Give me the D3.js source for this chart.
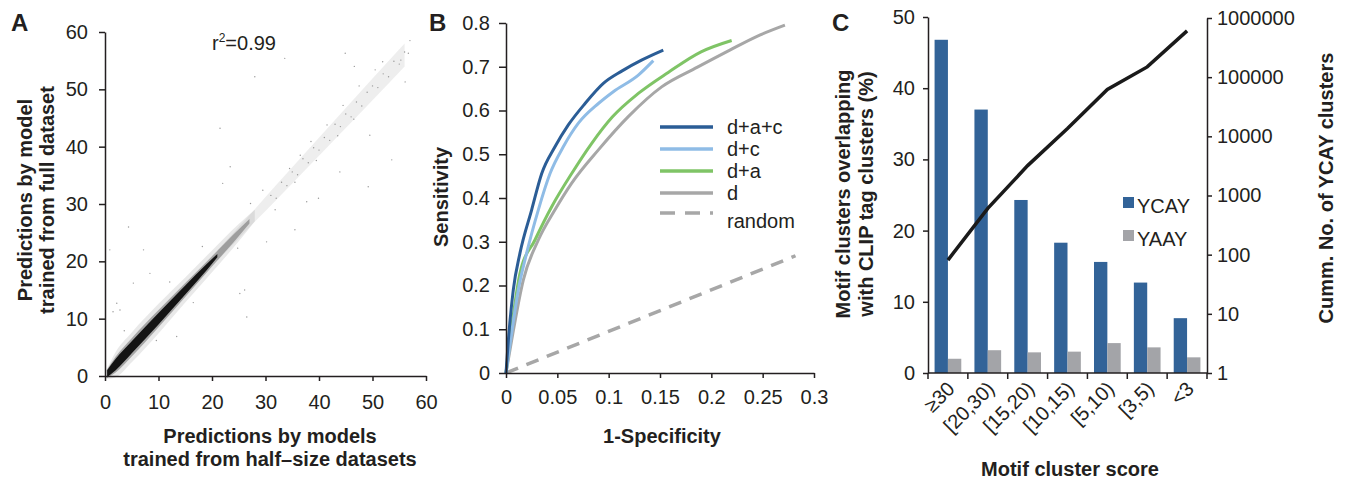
<!DOCTYPE html>
<html>
<head>
<meta charset="utf-8">
<script src="https://cdn.jsdelivr.net/npm/d3@7"></script>
<style>
  body { margin: 0; background: #fff; }
  svg { font-family: "Liberation Sans", Arial, sans-serif; }
  .axis path, .axis line { stroke: #231f20; stroke-width: 1.5; }
  .axis text { font-size: 20px; fill: #231f20; font-family: "Liberation Sans", Arial, sans-serif; }
</style>
</head>
<body>
<svg id="fig" width="1347" height="480"></svg>
<script>
// ---------- panel A data ----------
// dense band along the diagonal: centre position and half width (data units)
const haloX    = [0.3, 2, 5, 10, 15, 20, 25, 28]
const haloHalf = [0.8, 2.2, 2.6, 2.6, 2.2, 1.9, 1.5, 1.0]
const fuzzX    = [0.3, 2, 5, 10, 15, 20, 24, 27]
const fuzzHalf = [0.7, 1.4, 1.6, 1.5, 1.2, 0.9, 0.7, 0.4]
const coreX    = [0.4, 2, 5, 10, 15, 19, 21]
const coreHalf = [0.6, 1.0, 1.05, 1.0, 0.8, 0.55, 0.3]
const trailX    = [21, 25, 28, 32, 38, 44, 50, 56]
const trailHalf = [0.9, 1.0, 1.1, 1.3, 1.5, 1.7, 1.9, 2.0]
// scattered points
const ptsX = [21.5, 28.0, 33.6, 44.9, 53.6, 49.2, 23.4, 22.0, 35.5, 30.2, 56.7, 56.1, 55.3, 51.9, 46.6, 49.5, 43.9, 39.9, 37.7,
  0.9, 7.2, 26.5, 26.1, 13.4, 2.8, 5.3, 8.4, 4.4, 25.2, 2.2, 1.5,
  31, 32, 33, 34, 35, 36, 37, 38, 39, 40, 41, 42, 43, 44, 45, 46, 47, 48, 49, 50, 51, 52, 53, 54, 55, 56, 57,
  34.5, 36.5, 38.5, 41.5, 44.5, 47.5, 50.5, 35.5, 39.5, 43.5, 46.5, 29.5, 27.2, 24.8, 31.8, 18.2, 16.5, 12.1, 9.6, 3.6]
const ptsY = [43.2, 52.2, 55.4, 56.3, 37.7, 33.0, 36.5, 33.6, 25.5, 23.4, 56.3, 51.3, 55.1, 54.8, 54.0, 42.0, 35.6, 31.0, 30.4,
  22.0, 22.0, 10.3, 15.0, 6.9, 11.5, 16.2, 17.9, 26.0, 14.4, 12.7, 11.2,
  31.5, 31.0, 33.8, 33.2, 35.6, 35.1, 37.9, 37.2, 39.8, 39.4, 41.6, 41.1, 43.9, 43.5, 45.7, 45.2, 47.8, 47.1, 49.5, 50.6, 50.3, 52.7, 52.2, 54.9, 54.4, 56.5, 58.5,
  36.2, 38.5, 40.9, 43.8, 47.2, 50.6, 53.4, 33.8, 37.6, 41.9, 44.8, 32.4, 30.1, 22.3, 29.0, 22.6, 12.8, 16.4, 6.2, 7.9]
const ticksA = [0, 10, 20, 30, 40, 50, 60]

// ---------- panel B data ----------
const rocNames = ["d+a+c", "d+c", "d+a", "d"]
const rocColors = ["#2b5d96", "#8fbce6", "#7fc466", "#a7a7a7"]
const rocDAC = [[0, 0], [0.0023, 0.075], [0.0071, 0.19], [0.0136, 0.274], [0.025, 0.373], [0.0348, 0.456], [0.0477, 0.517],
  [0.0607, 0.567], [0.077, 0.616], [0.0948, 0.662], [0.1127, 0.690], [0.132, 0.715], [0.1532, 0.738]]
const rocDC = [[0, 0], [0.0045, 0.075], [0.012, 0.19], [0.0201, 0.274], [0.0315, 0.373], [0.0429, 0.456], [0.0558, 0.517],
  [0.0705, 0.571], [0.090, 0.616], [0.1045, 0.643], [0.1289, 0.681], [0.1435, 0.714]]
const rocDA = [[0, 0], [0.0039, 0.075], [0.0136, 0.228], [0.0282, 0.304], [0.0445, 0.380], [0.064, 0.456], [0.0835, 0.525],
  [0.1035, 0.585], [0.1289, 0.639], [0.1580, 0.687], [0.1900, 0.734], [0.2198, 0.760]]
const rocD = [[0, 0], [0.0055, 0.075], [0.0169, 0.213], [0.0315, 0.304], [0.0477, 0.373], [0.064, 0.434], [0.090, 0.510],
  [0.1191, 0.586], [0.1516, 0.654], [0.1865, 0.699], [0.218, 0.738], [0.244, 0.769], [0.2717, 0.795]]
const rocRandom = [[0, 0], [0.282, 0.268]]
const ticksBx = [0, 0.05, 0.1, 0.15, 0.2, 0.25, 0.3]
const ticksBy = [0, 0.1, 0.2, 0.3, 0.4, 0.5, 0.6, 0.7, 0.8]

// ---------- panel C data ----------
const scoreBins = ["≥30", "[20,30)", "[15,20)", "[10,15)", "[5,10)", "[3,5)", "<3"]
const ycay = [46.8, 37.0, 24.3, 18.3, 15.6, 12.7, 7.7]
const yaay = [2.0, 3.2, 2.9, 3.0, 4.2, 3.6, 2.2]
const cumYcay = [81, 605, 3200, 13600, 62000, 149000, 605000]
const ticksCl = [0, 10, 20, 30, 40, 50]
const ticksCr = [1, 10, 100, 1000, 10000, 100000, 1000000]

const ink = "#231f20"
const svg = d3.select("#fig")

function txt(x, y, s, size, weight, anchor, rot){
  const t = svg.append("text")
    .attr("x", x).attr("y", y)
    .attr("font-size", size)
    .attr("font-weight", weight || "normal")
    .attr("text-anchor", anchor || "middle")
    .attr("fill", ink)
    .text(s)
  if(rot) t.attr("transform", "rotate(" + rot + "," + x + "," + y + ")")
  return t
}

// ================= PANEL A =================
const xA = d3.scaleLinear().domain([0, 60]).range([105, 426])
const yA = d3.scaleLinear().domain([0, 60]).range([376, 32])

function band(xs, hs, fill, op){
  const rows = xs.map((v, i) => ({x: v, h: hs[i]}))
  svg.append("path")
    .datum(rows)
    .attr("d", d3.area()
      .x(d => xA(d.x))
      .y0(d => yA(d.x - d.h))
      .y1(d => yA(d.x + d.h))
      .curve(d3.curveMonotoneX))
    .attr("fill", fill)
    .attr("opacity", op)
}
band(trailX, trailHalf, "#a0a0a0", 0.18)
band(haloX, haloHalf, "#909090", 0.2)
band(fuzzX, fuzzHalf, "#555", 0.45)
band(coreX, coreHalf, "#141414", 1)

svg.append("g").selectAll("circle")
  .data(ptsX)
  .join("circle")
  .attr("cx", d => xA(d))
  .attr("cy", (d, i) => yA(ptsY[i]))
  .attr("r", 0.7)
  .attr("fill", "#999")

svg.append("g").attr("class", "axis")
  .attr("transform", "translate(0,376)")
  .call(d3.axisBottom(xA).tickValues(ticksA).tickSize(5).tickPadding(14).tickSizeOuter(0))
svg.append("g").attr("class", "axis")
  .attr("transform", "translate(105,0)")
  .call(d3.axisLeft(yA).tickValues(ticksA).tickSize(6).tickPadding(11).tickSizeOuter(0))

const r2 = txt(212, 50, "r", 20, "normal", "start")
r2.append("tspan").attr("font-size", 12).attr("dy", -8).text("2")
r2.append("tspan").attr("dy", 8).text("=0.99")

txt(270, 443, "Predictions by models", 20, "bold")
txt(270, 466, "trained from half–size datasets", 20, "bold")
txt(32, 200, "Predictions by model", 20, "bold", "middle", -90)
txt(54, 200, "trained from full dataset", 20, "bold", "middle", -90)
txt(11, 31, "A", 24, "bold", "start")

// ================= PANEL B =================
const xB = d3.scaleLinear().domain([0, 0.3]).range([506, 814])
const yB = d3.scaleLinear().domain([0, 0.8]).range([373, 23])
const lineB = d3.line().x(d => xB(d[0])).y(d => yB(d[1])).curve(d3.curveMonotoneX)

svg.append("path").datum(rocRandom)
  .attr("d", lineB).attr("fill", "none")
  .attr("stroke", "#a7a7a7").attr("stroke-width", 3.5).attr("stroke-dasharray", "13,9")

const rocs = [rocDAC, rocDC, rocDA, rocD]
// draw back to front so d+a+c ends up on top
for(let i = rocs.length - 1; i >= 0; i--){
  svg.append("path").datum(rocs[i])
    .attr("d", lineB).attr("fill", "none")
    .attr("stroke", rocColors[i]).attr("stroke-width", 3)
}

svg.append("g").attr("class", "axis")
  .attr("transform", "translate(0,373)")
  .call(d3.axisBottom(xB).tickValues(ticksBx).tickSize(5).tickPadding(12).tickSizeOuter(0).tickFormat(d3.format("")))
svg.append("g").attr("class", "axis")
  .attr("transform", "translate(506,0)")
  .call(d3.axisLeft(yB).tickValues(ticksBy).tickSize(7).tickPadding(9).tickSizeOuter(0).tickFormat(d3.format("")))

// legend
const legRows = [127, 149, 171, 193]
rocNames.forEach((name, i) => {
  svg.append("line").attr("x1", 660).attr("x2", 713).attr("y1", legRows[i]).attr("y2", legRows[i])
    .attr("stroke", rocColors[i]).attr("stroke-width", 3.5)
  txt(727, legRows[i] + 7, name, 20, "normal", "start")
})
svg.append("line").attr("x1", 660).attr("x2", 713).attr("y1", 213).attr("y2", 213)
  .attr("stroke", "#a7a7a7").attr("stroke-width", 3.5).attr("stroke-dasharray", "15,10")
txt(727, 228, "random", 20, "normal", "start")

txt(662, 443, "1-Specificity", 20, "bold")
txt(448, 197, "Sensitivity", 20, "bold", "middle", -90)
txt(429, 31, "B", 24, "bold", "start")

// ================= PANEL C =================
const xC = d3.scaleBand().domain(scoreBins).range([928, 1207]).paddingInner(0.33).paddingOuter(0.165)
const yCl = d3.scaleLinear().domain([0, 50]).range([373, 17])
const yCr = d3.scaleLog().domain([1, 1e6]).range([373, 18])
const bw = xC.bandwidth() / 2

svg.append("g").selectAll("rect.ycay")
  .data(ycay).join("rect")
  .attr("x", (d, i) => xC(scoreBins[i]))
  .attr("y", d => yCl(d))
  .attr("width", bw)
  .attr("height", d => yCl(0) - yCl(d))
  .attr("fill", "#326398")
svg.append("g").selectAll("rect.yaay")
  .data(yaay).join("rect")
  .attr("x", (d, i) => xC(scoreBins[i]) + bw)
  .attr("y", d => yCl(d))
  .attr("width", bw)
  .attr("height", d => yCl(0) - yCl(d))
  .attr("fill", "#a3a4a8")

svg.append("path").datum(cumYcay)
  .attr("d", d3.line().x((d, i) => xC(scoreBins[i]) + bw).y(d => yCr(d)))
  .attr("fill", "none").attr("stroke", "#1a1a1a").attr("stroke-width", 3.5)

// x axis: ticks sit on the band boundaries
const gx = svg.append("g").attr("class", "axis")
gx.append("line").attr("x1", 928).attr("x2", 1207).attr("y1", 373).attr("y2", 373)
const bounds = scoreBins.map(c => xC(c) - xC.step() * xC.paddingInner() / 2)
bounds.push(1207)
gx.selectAll("line.tk").data(bounds).join("line")
  .attr("x1", d => d).attr("x2", d => d).attr("y1", 373).attr("y2", 379)
scoreBins.forEach((c, i) => {
  const cx = xC(c) + bw + 8
  txt(cx, 390, c, 20, "normal", "end", -45)
})

svg.append("g").attr("class", "axis")
  .attr("transform", "translate(928,0)")
  .call(d3.axisLeft(yCl).tickValues(ticksCl).tickSize(5).tickPadding(8).tickSizeOuter(0))
svg.append("g").attr("class", "axis")
  .attr("transform", "translate(1207,0)")
  .call(d3.axisRight(yCr).tickValues(ticksCr).tickSize(5).tickPadding(5).tickSizeOuter(0).tickFormat(d3.format("d")))

// legend
svg.append("rect").attr("x", 1123).attr("y", 197).attr("width", 11).attr("height", 11).attr("fill", "#326398")
txt(1137, 213, "YCAY", 20, "normal", "start")
svg.append("rect").attr("x", 1123).attr("y", 230).attr("width", 11).attr("height", 11).attr("fill", "#a3a4a8")
txt(1137, 246, "YAAY", 20, "normal", "start")

txt(1070, 476, "Motif cluster score", 20, "bold")
txt(850, 194, "Motif clusters overlapping", 20, "bold", "middle", -90)
txt(873, 194, "with CLIP tag clusters (%)", 20, "bold", "middle", -90)
txt(1333, 188, "Cumm. No. of YCAY clusters", 20, "bold", "middle", -90)
txt(832, 31, "C", 24, "bold", "start")
</script>
</body>
</html>
